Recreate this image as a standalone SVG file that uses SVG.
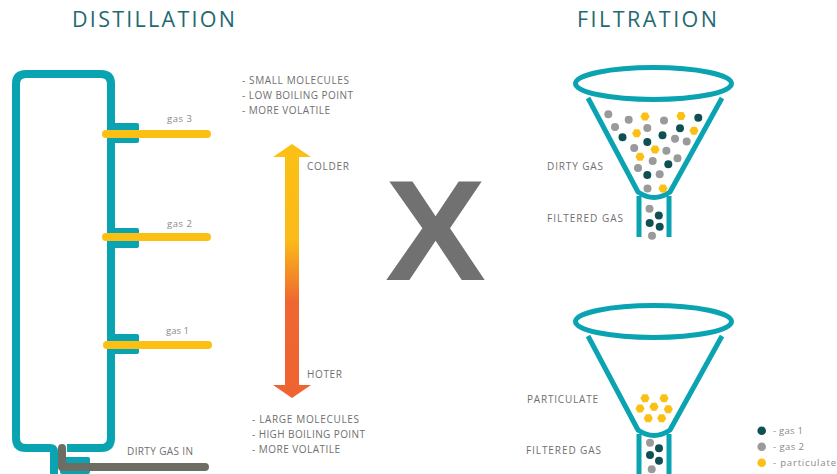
<svg xmlns="http://www.w3.org/2000/svg" xmlns:xlink="http://www.w3.org/1999/xlink" width="837" height="474" viewBox="0 0 837 474">
  <style>
    .title { font-family: "Open Sans", "Liberation Sans", sans-serif; font-size: 21.5px; fill: #1f6a72; }
    .lbl { font-family: "Open Sans", "Liberation Sans", sans-serif; font-size: 10px; fill: #6f6f6f; }
    .sm { font-family: "Open Sans", "Liberation Sans", sans-serif; font-size: 9.5px; fill: #8a8a8a; }
    .teal { fill: none; stroke: #0aa3b2; stroke-width: 8; }
    .flange { fill: #0aa3b2; }
    .pipe { fill: none; stroke: #fcc015; stroke-width: 8; stroke-linecap: round; }
    .inlet { fill: none; stroke: #6e6d63; stroke-width: 8; stroke-linecap: round; stroke-linejoin: round; }
    .funnel { fill: none; stroke: #0aa3b2; stroke-width: 5; stroke-linejoin: round; }
    .g1 { fill: #0f5152; }
    .g2 { fill: #9a9a9c; }
    .pt { fill: #fcc015; }
  </style>
  <defs>
    <linearGradient id="temp" gradientUnits="userSpaceOnUse" x1="0" y1="144" x2="0" y2="398">
      <stop offset="0" stop-color="#fcc015"/>
      <stop offset="0.38" stop-color="#fbba18"/>
      <stop offset="0.62" stop-color="#ef6730"/>
      <stop offset="1" stop-color="#ef6330"/>
    </linearGradient>
    <circle id="dot" r="4"/>
    <path id="hex" d="M -4.6 0 L -2.3 -4 L 2.3 -4 L 4.6 0 L 2.3 4 L -2.3 4 Z"/>
  </defs>

  <!-- headings -->
  <text class="title" x="72" y="27" textLength="163">DISTILLATION</text>
  <text class="title" x="577" y="27" textLength="140">FILTRATION</text>

  <!-- distillation column -->
  <g id="column">
    <path class="teal" d="M 67 448 H 101 Q 111 448 111 438 V 84 Q 111 74 101 74 H 26 Q 16 74 16 84 V 438 Q 16 448 26 448 H 50 Q 54 448 54 452 V 474"/>
    <rect class="flange" x="107" y="123" width="32" height="20" rx="2"/>
    <rect class="flange" x="107" y="228" width="32" height="20" rx="2"/>
    <rect class="flange" x="107" y="334" width="32" height="20" rx="2"/>
    <rect class="flange" x="60" y="457" width="30" height="17" rx="2"/>
  </g>

  <!-- pipes -->
  <g id="connectors">
    <path class="pipe" d="M 106 134 H 207"/>
    <path class="pipe" d="M 106 237 H 207"/>
    <path class="pipe" d="M 107 345 H 208"/>
    <path class="inlet" d="M 62 448 V 467 H 205"/>
  </g>

  <g id="gas-labels">
    <text class="sm" x="167" y="122" textLength="25">gas 3</text>
    <text class="sm" x="167" y="227" textLength="25">gas 2</text>
    <text class="sm" x="166" y="334" textLength="23">gas 1</text>
    <text class="lbl" x="127" y="455" textLength="66">DIRTY GAS IN</text>
  </g>

  <!-- temperature arrow -->
  <g id="temperature">
    <polygon fill="url(#temp)" points="292,144 311,157 299,157 299,385 311,385 292,398 273,385 285,385 285,157 273,157"/>
    <text class="lbl" x="307" y="170" textLength="42">COLDER</text>
    <text class="lbl" x="307" y="378" textLength="35">HOTER</text>
  </g>

  <g id="top-notes">
    <text class="lbl" x="242" y="84" textLength="107">- SMALL MOLECULES</text>
    <text class="lbl" x="242" y="99" textLength="111">- LOW BOILING POINT</text>
    <text class="lbl" x="242" y="114" textLength="88">- MORE VOLATILE</text>
  </g>
  <g id="bottom-notes">
    <text class="lbl" x="252" y="423" textLength="107">- LARGE MOLECULES</text>
    <text class="lbl" x="252" y="438" textLength="113">- HIGH BOILING POINT</text>
    <text class="lbl" x="252" y="453" textLength="88">- MORE VOLATILE</text>
  </g>

  <!-- versus mark -->
  <text x="435.5" y="280" text-anchor="middle" font-family="Liberation Sans, Arial, sans-serif" font-weight="700" font-size="142" fill="#717171" textLength="101" lengthAdjust="spacingAndGlyphs">X</text>

  <!-- upper funnel: dirty gas -->
  <g id="funnel-gas">
    <ellipse class="funnel" cx="653.5" cy="83.5" rx="78" ry="16"/>
    <path class="funnel" d="M 588 98 L 638 192 Q 654 203 670 192 L 722 98"/>
    <path class="funnel" d="M 639 196 V 237 M 669 196 V 237"/>
    <use href="#dot" class="g2" x="608.3" y="114.3"/>
    <use href="#dot" class="g2" x="628.7" y="119.7"/>
    <use href="#hex" class="pt" x="645" y="116.5"/>
    <use href="#dot" class="g2" x="664" y="120.5"/>
    <use href="#hex" class="pt" x="681" y="116"/>
    <use href="#dot" class="g1" x="698.3" y="117.7"/>
    <use href="#dot" class="g2" x="615" y="127"/>
    <use href="#dot" class="g2" x="647.3" y="128"/>
    <use href="#dot" class="g1" x="680" y="128.3"/>
    <use href="#hex" class="pt" x="694" y="130.7"/>
    <use href="#dot" class="g1" x="622.5" y="137.3"/>
    <use href="#hex" class="pt" x="636.7" y="133.3"/>
    <use href="#dot" class="g1" x="662.5" y="135.2"/>
    <use href="#dot" class="g2" x="675" y="138.7"/>
    <use href="#dot" class="g1" x="647.3" y="142"/>
    <use href="#dot" class="g2" x="686.7" y="141.4"/>
    <use href="#dot" class="g2" x="634.2" y="148"/>
    <use href="#hex" class="pt" x="655" y="149.5"/>
    <use href="#dot" class="g2" x="666.4" y="150.8"/>
    <use href="#hex" class="pt" x="640" y="156.7"/>
    <use href="#dot" class="g2" x="652.7" y="161"/>
    <use href="#dot" class="g2" x="677.5" y="158.3"/>
    <use href="#dot" class="g1" x="668.3" y="164.2"/>
    <use href="#dot" class="g2" x="638" y="168"/>
    <use href="#dot" class="g1" x="647.3" y="175"/>
    <use href="#dot" class="g2" x="659.7" y="174.3"/>
    <use href="#dot" class="g2" x="647.5" y="188.5"/>
    <use href="#hex" class="pt" x="663" y="188.5"/>
    <use href="#dot" class="g2" x="649.5" y="208.8"/>
    <use href="#dot" class="g1" x="658.8" y="215.5"/>
    <use href="#dot" class="g1" x="649.7" y="223"/>
    <use href="#dot" class="g1" x="659.7" y="226.7"/>
    <use href="#dot" class="g2" x="652" y="235.8"/>
  </g>
  <text class="lbl" x="547" y="170" textLength="56">DIRTY GAS</text>
  <text class="lbl" x="547" y="222" textLength="76">FILTERED GAS</text>

  <!-- lower funnel: particulate held back -->
  <g id="funnel-particulate">
    <g transform="translate(0 238)">
      <ellipse class="funnel" cx="653.5" cy="83.5" rx="78" ry="16"/>
      <path class="funnel" d="M 588 98 L 638 192 Q 654 203 670 192 L 722 98"/>
      <path class="funnel" d="M 639 196 V 240 M 669 196 V 240"/>
    </g>
    <use href="#hex" class="pt" x="645" y="398.3"/>
    <use href="#hex" class="pt" x="664" y="398.3"/>
    <use href="#hex" class="pt" x="640" y="408.5"/>
    <use href="#hex" class="pt" x="654" y="406.7"/>
    <use href="#hex" class="pt" x="668.3" y="409.3"/>
    <use href="#hex" class="pt" x="648.3" y="418.3"/>
    <use href="#hex" class="pt" x="661.7" y="418.3"/>
    <use href="#dot" class="g2" x="650" y="442.7"/>
    <use href="#dot" class="g1" x="659" y="448.3"/>
    <use href="#dot" class="g1" x="650" y="455"/>
    <use href="#dot" class="g1" x="659" y="460.7"/>
    <use href="#dot" class="g2" x="651.7" y="469.3"/>
  </g>
  <text class="lbl" x="527" y="403" textLength="71">PARTICULATE</text>
  <text class="lbl" x="526" y="454" textLength="75">FILTERED GAS</text>

  <!-- key -->
  <g id="legend">
    <circle class="g1" cx="761.7" cy="430.7" r="4.3"/>
    <circle class="g2" cx="761.7" cy="446.7" r="4.3"/>
    <circle class="pt" cx="761.7" cy="462.7" r="4.3"/>
    <text class="sm" x="773" y="434" textLength="30">- gas 1</text>
    <text class="sm" x="773" y="450" textLength="31">- gas 2</text>
    <text class="sm" x="773" y="466" textLength="63">- particulate</text>
  </g>
</svg>
